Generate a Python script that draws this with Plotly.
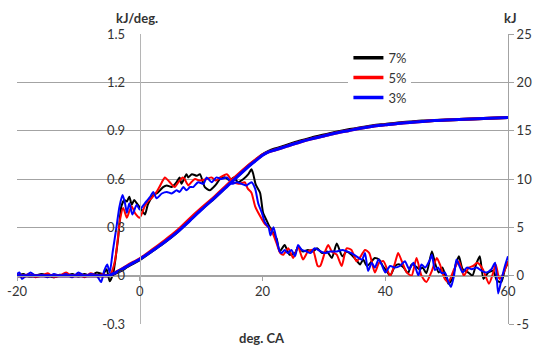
import plotly.graph_objects as go

# ---------------- data ----------------
series_names = ["7%", "5%", "3%"]
series_colors = ["#000000", "#ff0000", "#0000ff"]

# heat release rate (kJ/deg.) - left axis
hrr7_x = [-20, -19, -18, -17, -16, -15, -14, -13, -12, -11, -10, -9, -8, -7, -6, -5.4, -4.9, -4.3, -3.9, -3.5, -3.0, -2.5, -2.1, -1.7, -1.3, -0.9, -0.5, 0.3, 0.85, 1.3, 1.7, 2.2, 2.75, 3.3, 3.8, 4.4, 5.2, 6.0, 6.5, 6.8, 7.6, 7.9, 8.5, 9.3, 9.8, 10.6, 11.4, 12.3, 13.1, 13.9, 14.7, 15.3, 16.0, 16.9, 17.7, 18.2, 18.5, 18.9, 19.6, 20.1, 20.7, 21.2, 21.7, 22.3, 22.8, 23.6, 24.4, 25.3, 25.8, 26.6, 27.4, 28.2, 28.9, 29.7, 30.5, 31.3, 32.1, 33.0, 33.7, 34.5, 35.2, 35.9, 36.4, 37.0, 37.6, 38.3, 39.0, 39.6, 40.2, 40.8, 41.6, 42.3, 43.0, 43.7, 44.3, 44.9, 45.6, 46.1, 46.7, 47.6, 48.1, 48.7, 49.3, 50.3, 50.9, 51.5, 52.0, 52.6, 53.5, 54.2, 54.8, 55.4, 56.0, 56.8, 57.6, 58.2, 58.9, 59.5, 60.0]
hrr7_y = [0.0, 0.01, -0.005, 0.0, 0.01, 0.0, -0.01, 0.005, 0.0, 0.01, -0.005, 0.01, 0.0, 0.02, 0.01, 0.04, -0.035, 0.02, 0.12, 0.24, 0.43, 0.47, 0.46, 0.49, 0.44, 0.47, 0.45, 0.41, 0.38, 0.44, 0.47, 0.50, 0.51, 0.53, 0.55, 0.56, 0.55, 0.58, 0.61, 0.57, 0.63, 0.61, 0.63, 0.62, 0.63, 0.55, 0.53, 0.56, 0.60, 0.61, 0.59, 0.61, 0.58, 0.60, 0.63, 0.66, 0.63, 0.565, 0.515, 0.39, 0.34, 0.30, 0.27, 0.23, 0.15, 0.19, 0.13, 0.14, 0.18, 0.15, 0.16, 0.15, 0.17, 0.14, 0.15, 0.11, 0.20, 0.12, 0.15, 0.13, 0.10, 0.07, 0.10, 0.06, 0.08, 0.11, 0.10, 0.06, 0.03, 0.00, 0.06, 0.07, 0.05, 0.015, 0.07, 0.06, 0.04, 0.05, 0.015, 0.15, 0.08, 0.02, 0.05, -0.05, -0.02, 0.07, 0.12, 0.04, 0.02, 0.0, 0.07, 0.12, -0.02, 0.02, 0.03, -0.03, -0.04, 0.04, 0.08]

hrr5_x = [-20, -19, -18, -17, -16, -15, -14, -13, -12, -11, -10, -9, -8, -7, -6, -5, -4.5, -4.0, -3.6, -3.2, -2.7, -2.1, -1.7, -1.3, -0.8, 0, 0.8, 1.3, 1.9, 2.3, 2.75, 3.2, 3.6, 4.1, 4.9, 5.7, 6.3, 7.0, 7.3, 7.9, 8.4, 9.0, 9.8, 10.9, 11.7, 12.4, 13.1, 14.2, 15.2, 16.3, 17.1, 17.6, 18.2, 18.8, 19.6, 20.4, 21.0, 21.6, 22.3, 22.9, 23.4, 24.2, 25.0, 25.8, 26.6, 27.4, 28.2, 29.0, 29.4, 30.2, 30.7, 31.3, 32.1, 32.9, 33.7, 34.5, 35.3, 36.0, 36.7, 37.4, 38.3, 39.0, 39.7, 40.8, 41.6, 42.1, 42.8, 43.5, 44.3, 45.1, 45.9, 46.7, 47.6, 48.4, 49.0, 49.7, 50.3, 51.1, 52.0, 52.8, 53.6, 54.3, 55.0, 55.9, 56.9, 57.6, 58.0, 58.6, 59.2, 60.0]
hrr5_y = [0.005, 0.0, 0.01, -0.01, 0.0, 0.015, -0.01, 0.0, 0.02, -0.005, 0.01, -0.01, 0.015, 0.0, 0.01, 0.0, 0.03, 0.10, 0.22, 0.35, 0.42, 0.36, 0.40, 0.43, 0.39, 0.36, 0.43, 0.46, 0.48, 0.50, 0.52, 0.55, 0.58, 0.61, 0.58, 0.55, 0.58, 0.61, 0.60, 0.56, 0.58, 0.60, 0.59, 0.60, 0.61, 0.59, 0.61, 0.63, 0.58, 0.57, 0.58, 0.54, 0.515, 0.43, 0.37, 0.32, 0.30, 0.27, 0.20, 0.14, 0.13, 0.17, 0.11, 0.18, 0.10, 0.15, 0.16, 0.06, 0.06, 0.15, 0.19, 0.15, 0.13, 0.06, 0.17, 0.16, 0.09, 0.12, 0.16, 0.14, 0.02, 0.08, 0.09, 0.00, 0.08, 0.14, 0.08, 0.02, 0.0, 0.11, 0.0, -0.04, 0.03, 0.11, 0.06, -0.02, -0.04, 0.03, 0.09, 0.0, 0.05, 0.06, 0.08, 0.04, -0.05, 0.02, 0.07, -0.02, 0.01, 0.09]

hrr3_x = [-20, -19.6, -19.2, -18.5, -17.8, -17, -16, -15, -14, -13, -12, -11, -10, -9, -8, -7, -6.3, -5.8, -5.3, -4.9, -4.4, -3.8, -3.3, -2.8, -2.4, -2.1, -1.7, -1.2, -0.5, 0, 0.85, 1.7, 2.2, 2.75, 3.6, 4.4, 5.2, 6.0, 6.5, 7.1, 7.6, 8.2, 8.7, 9.5, 10.4, 10.9, 11.7, 12.5, 13.3, 14.2, 15.0, 15.8, 16.6, 17.4, 18.2, 18.8, 19.3, 19.9, 20.4, 21.0, 21.3, 21.8, 22.3, 22.8, 23.1, 23.6, 24.1, 24.7, 25.3, 25.8, 26.4, 27.2, 27.8, 28.5, 29.5, 30.2, 31.0, 32.1, 33.0, 33.8, 34.5, 35.3, 36.2, 36.7, 37.2, 37.8, 38.3, 38.9, 39.4, 40.0, 40.8, 41.6, 42.4, 43.2, 43.9, 44.6, 45.4, 45.9, 46.5, 47.3, 47.6, 48.1, 48.6, 49.2, 49.7, 50.3, 50.7, 51.2, 51.6, 52.2, 52.6, 53.3, 54.1, 54.9, 55.7, 56.5, 57.3, 57.9, 58.4, 58.9, 59.5, 60.0]
hrr3_y = [0.01, 0.02, -0.02, 0.0, 0.02, 0.0, 0.005, -0.01, 0.01, 0.0, 0.01, -0.01, 0.02, 0.0, 0.01, 0.0, -0.04, 0.03, 0.07, 0.02, 0.15, 0.30, 0.43, 0.50, 0.45, 0.39, 0.45, 0.38, 0.44, 0.41, 0.45, 0.49, 0.52, 0.48, 0.51, 0.52, 0.51, 0.53, 0.52, 0.55, 0.53, 0.55, 0.55, 0.58, 0.57, 0.61, 0.58, 0.61, 0.60, 0.61, 0.57, 0.58, 0.57, 0.56, 0.58, 0.54, 0.45, 0.39, 0.33, 0.30, 0.25, 0.30, 0.22, 0.15, 0.14, 0.16, 0.14, 0.16, 0.12, 0.19, 0.16, 0.15, 0.14, 0.17, 0.15, 0.14, 0.15, 0.15, 0.16, 0.15, 0.14, 0.12, 0.10, 0.14, 0.03, 0.08, 0.05, 0.10, 0.07, 0.02, 0.06, 0.05, 0.06, 0.09, 0.04, 0.08, 0.00, 0.07, 0.05, 0.10, 0.13, 0.035, 0.05, 0.015, 0.02, -0.04, -0.07, 0.0, 0.10, 0.05, 0.02, 0.05, 0.04, 0.05, 0.03, 0.02, 0.04, 0.08, -0.11, -0.03, 0.06, 0.12]

# cumulative heat release (kJ) - right axis
cum_x = [-20, -8, -6, -5, -4, -3, -2, -1, 0, 2, 4, 6, 8, 10, 12, 14, 16, 18, 19, 20, 21, 22, 24, 26, 28, 30, 32, 34, 36, 38, 40, 42, 44, 46, 48, 50, 52, 54, 56, 58, 60]
cum7_y = [0, 0, 0, 0.0, 0.25, 0.55, 0.95, 1.3, 1.65, 2.55, 3.45, 4.45, 5.65, 6.85, 7.95, 9.15, 10.35, 11.5, 12.0, 12.5, 12.85, 13.1, 13.5, 13.9, 14.25, 14.55, 14.85, 15.1, 15.3, 15.5, 15.65, 15.8, 15.9, 16.0, 16.05, 16.1, 16.15, 16.2, 16.25, 16.3, 16.35]
cum5_y = [0, 0, 0, 0.02, 0.32, 0.65, 1.05, 1.4, 1.75, 2.65, 3.6, 4.6, 5.8, 6.95, 8.05, 9.25, 10.45, 11.55, 12.05, 12.5, 12.8, 13.0, 13.4, 13.8, 14.15, 14.45, 14.75, 15.0, 15.25, 15.45, 15.6, 15.75, 15.85, 15.95, 16.05, 16.1, 16.15, 16.2, 16.25, 16.3, 16.35]
cum3_y = [0, 0, 0, 0.02, 0.3, 0.62, 1.0, 1.35, 1.7, 2.55, 3.45, 4.45, 5.6, 6.8, 7.95, 9.1, 10.3, 11.45, 11.95, 12.45, 12.8, 13.0, 13.4, 13.8, 14.15, 14.45, 14.75, 15.0, 15.25, 15.45, 15.6, 15.75, 15.85, 15.95, 16.05, 16.1, 16.15, 16.2, 16.25, 16.3, 16.35]

x_ticks = [-20, 0, 20, 40, 60]
x_tick_text = ["-20", "0", "20", "40", "60"]
y_ticks = [-0.3, 0, 0.3, 0.6, 0.9, 1.2, 1.5]
y_tick_text = ["-0.3", "0", "0.3", "0.6", "0.9", "1.2", "1.5"]
y2_ticks = [-5, 0, 5, 10, 15, 20, 25]
y2_tick_text = ["-5", "0", "5", "10", "15", "20", "25"]

left_title = "kJ/deg."
right_title = "kJ"
x_title = "deg. CA"

# ---------------- figure ----------------
FONT = "Lato, 'Open Sans', sans-serif"
GRID = "#a3a3a3"
TXT = "#333333"

fig = go.Figure()

hrr = [(hrr7_x, hrr7_y), (hrr5_x, hrr5_y), (hrr3_x, hrr3_y)]
cums = [cum7_y, cum5_y, cum3_y]

for (hx, hy), name, col in zip(hrr, series_names, series_colors):
    fig.add_trace(go.Scatter(
        x=hx, y=hy, mode="lines", name=name,
        line=dict(color=col, width=2, shape="spline", smoothing=0.6),
        yaxis="y", showlegend=False, hoverinfo="skip"))

for cy, name, col in zip(cums, series_names, series_colors):
    fig.add_trace(go.Scatter(
        x=cum_x, y=cy, mode="lines", name=name,
        line=dict(color=col, width=3, shape="spline", smoothing=0.8),
        yaxis="y2", showlegend=False, hoverinfo="skip"))

# legend entries
for name, col in zip(series_names, series_colors):
    fig.add_trace(go.Scatter(
        x=[None], y=[None], mode="lines", name=name,
        line=dict(color=col, width=3.5), yaxis="y", showlegend=True))

fig.update_layout(
    width=547, height=345,
    margin=dict(l=17, r=39, t=34, b=21, autoexpand=False),
    paper_bgcolor="white", plot_bgcolor="white",
    font=dict(family=FONT, size=13, color=TXT),
    showlegend=True,
    legend=dict(x=0.675, y=0.97, xanchor="left", yanchor="top",
                bgcolor="white", borderwidth=0,
                font=dict(family=FONT, size=13, color=TXT),
                tracegroupgap=0, itemwidth=30),
    xaxis=dict(range=[-20, 60], showgrid=False, zeroline=False,
               anchor="free", position=1/6, automargin=False,
               showline=True, linecolor=GRID, linewidth=1,
               ticks="outside", ticklen=4, tickcolor=GRID,
               tickvals=x_ticks, ticktext=x_tick_text,
               tickfont=dict(size=13, color=TXT)),
    yaxis=dict(range=[-0.3, 1.5], showgrid=True, gridcolor=GRID, gridwidth=1,
               zeroline=False, anchor="free", position=0.25, automargin=False,
               showline=True, linecolor="#b5b5b5", linewidth=1,
               ticks="", ticklabelstandoff=12,
               tickvals=y_ticks, ticktext=y_tick_text,
               tickfont=dict(size=13, color=TXT)),
    yaxis2=dict(range=[-5, 25], overlaying="y", side="right", anchor="x",
                showgrid=False, zeroline=False, automargin=False,
                showline=True, linecolor=GRID, linewidth=1,
                ticks="outside", ticklen=5, tickcolor=GRID,
                tickvals=y2_ticks, ticktext=y2_tick_text,
                tickfont=dict(size=13, color=TXT)),
    annotations=[
        dict(text="<b>" + left_title + "</b>", xref="paper", yref="paper",
             x=(137 - 17) / 491, y=(324 - 18) / 290, showarrow=False,
             xanchor="center", yanchor="middle", font=dict(size=13, color=TXT)),
        dict(text="<b>" + right_title + "</b>", xref="paper", yref="paper",
             x=(510 - 17) / 491, y=(324 - 18) / 290, showarrow=False,
             xanchor="center", yanchor="middle", font=dict(size=13, color=TXT)),
        dict(text="<b>" + x_title + "</b>", xref="paper", yref="paper",
             x=(262 - 17) / 491, y=(324 - 338) / 290, showarrow=False,
             xanchor="center", yanchor="middle", font=dict(size=13, color=TXT)),
    ],
)

# remove the browser's default 8px body margin so the figure sits at (0, 0)
fig.write_html("out.html", config={"displayModeBar": False},
               post_script="document.body.style.margin='0';")
